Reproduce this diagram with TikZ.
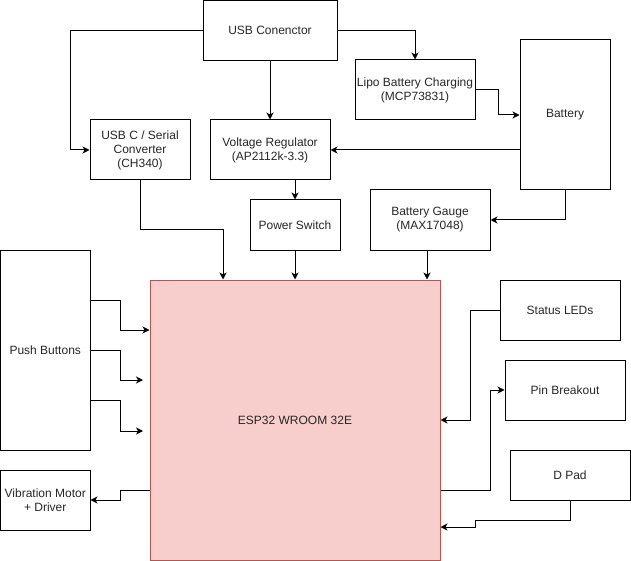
\documentclass[tikz,border=0pt]{standalone}
\usepackage{fontspec}
\setmainfont{Liberation Sans}
\usetikzlibrary{arrows.meta}
\definecolor{espfill}{HTML}{F8CECC}
\definecolor{espdraw}{HTML}{B85450}
\begin{document}
\begin{tikzpicture}[x=1pt,y=-1pt,
  box/.style={draw=black, line width=1pt, align=center, inner sep=1pt,
    font=\fontsize{12}{14}\selectfont, text=black!85},
  conn/.style={line width=1pt, -{Stealth[length=7pt,width=7pt,inset=2pt]}}]
\useasboundingbox (0,0) rectangle (631,561);

\node[box, minimum width=134pt, minimum height=60pt] (usb) at (270,30.5) {USB Conenctor};
\node[box, minimum width=100pt, minimum height=60pt] (usbc) at (140,150) {USB C / Serial\\Converter\\(CH340)};
\node[box, minimum width=120pt, minimum height=60pt] (vreg) at (270,150) {Voltage Regulator\\(AP2112k-3.3)};
\node[box, minimum width=90pt, minimum height=50pt] (psw) at (295,225) {Power Switch};
\node[box, minimum width=120pt, minimum height=60pt] (lipo) at (415,90) {Lipo Battery Charging\\(MCP73831)};
\node[box, minimum width=90pt, minimum height=150pt] (bat) at (565,115) {Battery};
\node[box, minimum width=120pt, minimum height=60pt] (gauge) at (430,220) {Battery Gauge\\(MAX17048)};
\node[box, draw=espdraw, fill=espfill, minimum width=290pt, minimum height=280pt] (esp) at (295,420) {ESP32 WROOM 32E};
\node[box, minimum width=89.5pt, minimum height=200pt] (pb) at (45.25,350) {Push Buttons};
\node[box, minimum width=89.5pt, minimum height=60pt] (vib) at (45.25,500) {Vibration Motor\\+ Driver};
\node[box, minimum width=120pt, minimum height=60pt] (leds) at (560,310) {Status LEDs};
\node[box, minimum width=120pt, minimum height=60pt] (pin) at (565,390) {Pin Breakout};
\node[box, minimum width=120pt, minimum height=50pt] (dpad) at (570,475) {D Pad};

\coordinate (pbin2) at (143,380);
\coordinate (pbin3) at (143,431);

\draw[conn] (usb.west) -- (70,30.5) |- (usbc.west);
\draw[conn] (usb.south) -- (vreg.north);
\draw[conn] (usb.east) -| (lipo.north);
\draw[conn] (lipo.east) -- (498,90) |- (bat.west);
\draw[conn] (bat.west |- vreg.east) -- (vreg.east);
\draw[conn] (bat.south) |- (gauge.east);
\draw[conn] (vreg.south -| psw.north) -- (psw.north);
\draw[conn] (usbc.south) -- (140,230) -| ([xshift=-72pt]esp.north);
\draw[conn] (psw.south) -- (psw.south |- esp.north);
\draw[conn] ([xshift=-3pt]gauge.south) -- ([xshift=-3pt]gauge.south |- esp.north);
\draw[conn] (pb.east |- 0,300) -- (120,300) |- (esp.west |- 0,330);
\draw[conn] (pb.east) -- (120,350) |- (pbin2);
\draw[conn] (pb.east |- 0,400) -- (120,400) |- (pbin3);
\draw[conn] (esp.west |- 0,490) -- (120,490) |- (vib.east);
\draw[conn] (leds.west) -- (470,310) |- (esp.east);
\draw[conn] (esp.east |- 0,490) -- (490,490) |- (pin.west);
\draw[conn] (dpad.south) -- (570,520) -- (475,520) -- (475,527) -- (esp.east |- 0,527);
\end{tikzpicture}
\end{document}
